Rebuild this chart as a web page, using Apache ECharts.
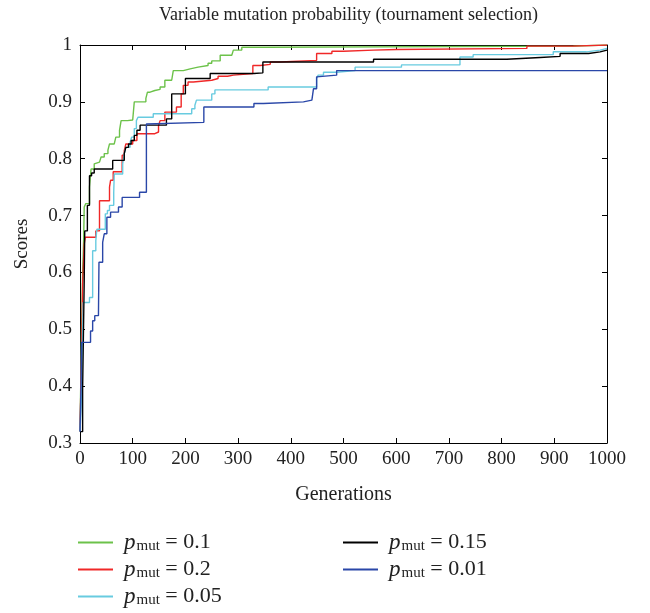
<!DOCTYPE html>
<html>
<head>
<meta charset="utf-8">
<script src="https://cdn.jsdelivr.net/npm/echarts@6/dist/echarts.min.js"></script>
<style>html,body{margin:0;padding:0;background:#fff}#c{width:650px;height:613px}</style>
</head>
<body>
<div id="c"></div>
<script>
const seriesNames = ['p_mut = 0.1', 'p_mut = 0.2', 'p_mut = 0.05', 'p_mut = 0.15', 'p_mut = 0.01'];
const xTicks = [0, 100, 200, 300, 400, 500, 600, 700, 800, 900, 1000];
const yTicks = [0.3, 0.4, 0.5, 0.6, 0.7, 0.8, 0.9, 1];

const gen_p010 = [0,3,5,7,8,11,18,21,27,30,37,40,46,53,56,65,68,75,78,90,100,103,125,128,133,142,152,161,174,177,196,209,224,243,250,266,288,291,307,354,936,1000];
const score_p010 = [0.32,0.5,0.6,0.66,0.715,0.721,0.75,0.782,0.791,0.794,0.797,0.803,0.809,0.815,0.826,0.829,0.838,0.85,0.867,0.868,0.87,0.9,0.906,0.917,0.92,0.922,0.926,0.938,0.94,0.955,0.958,0.961,0.964,0.968,0.972,0.982,0.985,0.991,0.996,0.998,1.0,1.0];

const gen_p020 = [0,3,5,8,10,30,37,56,58,63,80,84,87,100,108,142,149,152,161,175,183,192,196,205,215,250,262,280,291,328,342,361,380,449,478,500,557,601,848,936,1000];
const score_p020 = [0.32,0.46,0.58,0.65,0.662,0.673,0.726,0.75,0.762,0.777,0.806,0.814,0.826,0.832,0.844,0.847,0.858,0.867,0.882,0.882,0.891,0.914,0.929,0.935,0.938,0.941,0.945,0.947,0.95,0.964,0.966,0.97,0.973,0.985,0.989,0.991,0.992,0.994,0.998,1.0,1.0];

const gen_p005 = [0,2,3,5,6,18,24,30,32,48,52,56,64,65,81,84,87,95,98,103,107,110,139,212,218,221,250,256,357,449,452,462,487,522,610,721,746,898,961,987,1000];
const score_p005 = [0.32,0.36,0.386,0.5,0.547,0.556,0.638,0.656,0.676,0.703,0.709,0.718,0.741,0.773,0.791,0.809,0.82,0.829,0.838,0.853,0.867,0.873,0.879,0.888,0.894,0.903,0.914,0.921,0.926,0.941,0.947,0.952,0.955,0.961,0.965,0.979,0.983,0.988,0.991,0.994,0.994];

const gen_p015 = [0,5,8,9,14,18,22,27,62,84,87,92,97,103,108,114,164,174,200,247,330,347,557,810,873,911,965,987,1000];
const score_p015 = [0.32,0.395,0.585,0.673,0.718,0.77,0.775,0.782,0.797,0.809,0.82,0.826,0.832,0.841,0.85,0.859,0.870,0.914,0.941,0.950,0.951,0.970,0.975,0.978,0.98,0.985,0.988,0.991,0.991];

const gen_p001 = [0,2,3,20,24,28,35,36,43,46,51,58,73,80,113,126,127,235,330,348,424,440,443,449,452,487,1000];
const score_p001 = [0.32,0.40,0.477,0.497,0.515,0.524,0.527,0.618,0.653,0.668,0.697,0.706,0.715,0.732,0.741,0.861,0.864,0.891,0.897,0.90,0.903,0.906,0.923,0.944,0.947,0.955,0.955];

const gens = [gen_p010, gen_p020, gen_p005, gen_p015, gen_p001];
const scores = [score_p010, score_p020, score_p005, score_p015, score_p001];
const colors = ['#6cc24a', '#f02828', '#68cbe0', '#000000', '#2a47a8'];

const FONT = '"Liberation Serif", "DejaVu Serif", serif';

const series = seriesNames.map((name, i) => ({
  name: name,
  type: 'line',
  step: 'end',
  showSymbol: false,
  symbol: 'none',
  xAxisIndex: 0,
  yAxisIndex: 0,
  lineStyle: { color: colors[i], width: 1.4 },
  itemStyle: { color: colors[i] },
  data: gens[i].map((g, k) => [g, scores[i][k]])
}));

function legendFmt(name) {
  const v = name.split('=')[1].trim();
  return '{p|p}{s|mut}{t| = ' + v + '}';
}
const legendRich = {
  p: { fontFamily: FONT, fontStyle: 'italic', fontSize: 23, color: '#222', lineHeight: 22 },
  s: { fontFamily: FONT, fontSize: 15, color: '#222', lineHeight: 12, verticalAlign: 'bottom', padding: [0, 0, 0, 1] },
  t: { fontFamily: FONT, fontSize: 22, color: '#222', lineHeight: 22 }
};
const legendCommon = {
  orient: 'vertical',
  itemWidth: 35,
  itemHeight: 2,
  itemGap: 4,
  padding: 0,
  height: 100,
  icon: 'rect',
  formatter: legendFmt,
  textStyle: { rich: legendRich, padding: [0, 0, 0, 6] },
  selectedMode: false
};

const axisCommonX = {
  type: 'value', min: 0, max: 1000, interval: 100,
  axisLine: { show: true, onZero: false, lineStyle: { color: '#000', width: 1 } },
  axisTick: { show: true, inside: true, length: 5, lineStyle: { color: '#000' } },
  splitLine: { show: false }
};
const axisCommonY = {
  type: 'value', min: 0.3, max: 1, interval: 0.1,
  axisLine: { show: true, onZero: false, lineStyle: { color: '#000', width: 1 } },
  axisTick: { show: true, inside: true, length: 5, lineStyle: { color: '#000' } },
  splitLine: { show: false }
};

const chart = echarts.init(document.getElementById('c'), null, { renderer: 'canvas' });
chart.setOption({
  animation: false,
  backgroundColor: '#fff',
  title: {
    text: 'Variable mutation probability (tournament selection)',
    left: 343.5, top: 1, textAlign: 'center',
    textStyle: { fontFamily: FONT, fontSize: 18, fontWeight: 'normal', color: '#222' }
  },
  grid: { left: 80, top: 45, right: 43, bottom: 170 },
  xAxis: [
    Object.assign({}, axisCommonX, {
      position: 'bottom',
      name: 'Generations', nameLocation: 'middle', nameGap: 42,
      nameTextStyle: { fontFamily: FONT, fontSize: 20, color: '#222' },
      axisLabel: { fontFamily: FONT, fontSize: 19, color: '#222', margin: 7,
        formatter: v => String(v) }
    }),
    Object.assign({}, axisCommonX, { position: 'top', axisLabel: { show: false } })
  ],
  yAxis: [
    Object.assign({}, axisCommonY, {
      position: 'left',
      name: 'Scores', nameLocation: 'middle', nameGap: 48, nameRotate: 90,
      nameTextStyle: { fontFamily: FONT, fontSize: 19, color: '#222' },
      axisLabel: { fontFamily: FONT, fontSize: 19, color: '#222', margin: 8,
        formatter: v => String(Math.round(v * 10) / 10) }
    }),
    Object.assign({}, axisCommonY, { position: 'right', axisLabel: { show: false } })
  ],
  legend: [
    Object.assign({}, legendCommon, { left: 78, top: 531, data: seriesNames.slice(0, 3) }),
    Object.assign({}, legendCommon, { left: 343, top: 531, data: seriesNames.slice(3, 5) })
  ],
  series: series
});
</script>
</body>
</html>
